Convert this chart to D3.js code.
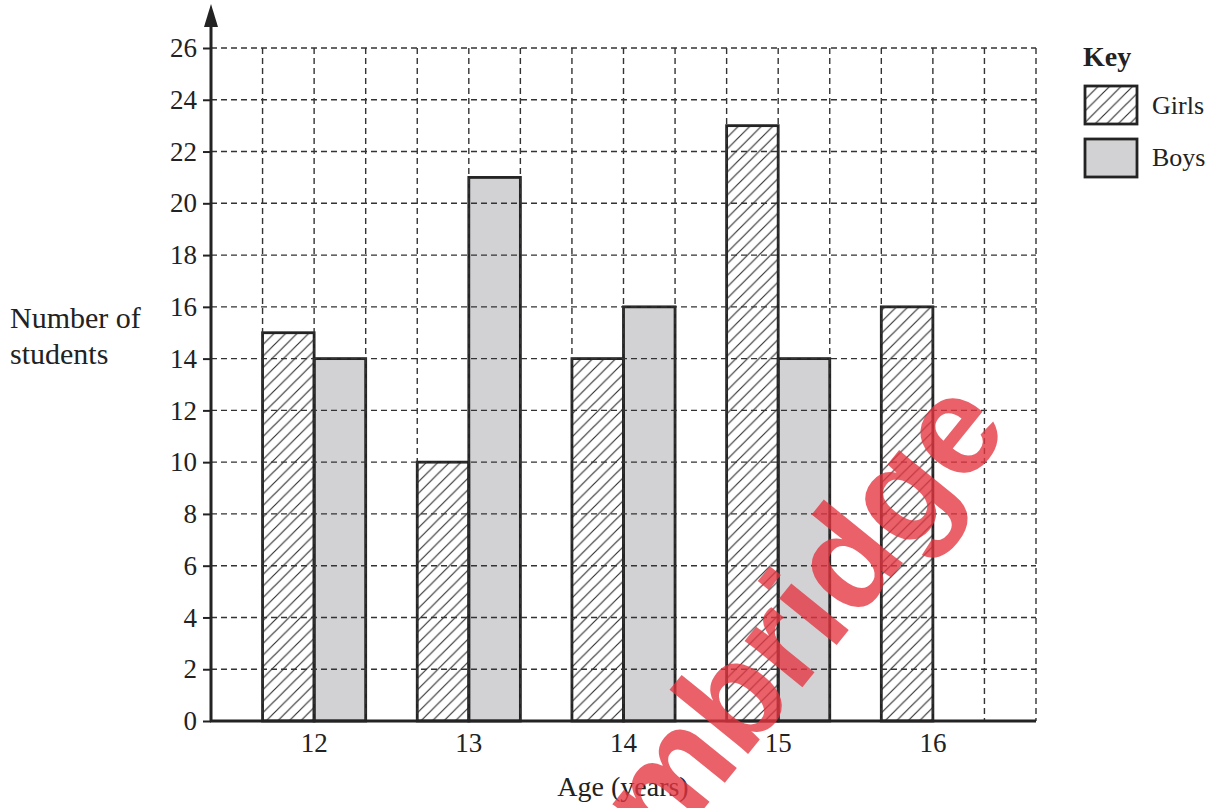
<!DOCTYPE html>
<html>
<head>
<meta charset="utf-8">
<script src="https://cdn.jsdelivr.net/npm/d3@7"></script>
<style>
  html, body { margin: 0; padding: 0; background: #fff; }
  svg text.serif { font-family: "Liberation Serif", "DejaVu Serif", serif; fill: #222; }
</style>
</head>
<body>
<svg id="chart" width="1219" height="808"></svg>
<script>
// ---- data ----
const ages = ["12", "13", "14", "15", "16"];
const seriesNames = ["Girls", "Boys"];
const girls = [15, 10, 14, 23, 16];
const boys = [14, 21, 16, 14, 0];
const yTicks = [0, 2, 4, 6, 8, 10, 12, 14, 16, 18, 20, 22, 24, 26];
const gridCells = 16;

(function () {
const svg = d3.select("#chart");
const pLeft = 211, pRight = 1036, pBottom = 721, pTop = 48;
const ink = "#232323";
const serif = "Liberation Serif, DejaVu Serif, serif";

const defs = svg.append("defs");
const pat = defs.append("pattern").attr("id", "hatch")
  .attr("patternUnits", "userSpaceOnUse").attr("width", 11.5).attr("height", 11.5);
pat.append("path").attr("d", "M0,11.5 L11.5,0 M-2,2 L2,-2 M9.5,13.5 L13.5,9.5")
  .attr("stroke", "#2e2e2e").attr("stroke-width", 1.15);

const y = d3.scaleLinear().domain([0, 26]).range([pBottom, pTop]);
const xCell = d3.scaleLinear().domain([0, gridCells]).range([pLeft, pRight]);
const x0 = d3.scaleBand().domain(ages).range([pLeft, pRight])
  .paddingInner(1 / 3).paddingOuter(1 / 3);
const x1 = d3.scaleBand().domain(seriesNames).range([0, x0.bandwidth()]);

const data = ages.map((a, i) => ({ age: a, vals: [
  { key: "Girls", v: girls[i] }, { key: "Boys", v: boys[i] }
].filter(d => d.v > 0) }));

// bar fills
const groups = svg.append("g").selectAll("g").data(data).join("g")
  .attr("transform", d => `translate(${x0(d.age)},0)`);
groups.selectAll("rect.fill").data(d => d.vals).join("rect").attr("class", "fill")
  .attr("x", d => x1(d.key)).attr("width", x1.bandwidth())
  .attr("y", d => y(d.v)).attr("height", d => y(0) - y(d.v))
  .attr("fill", d => d.key === "Girls" ? "url(#hatch)" : "#d2d2d4")
  .attr("stroke", "none");

// grid
const grid = svg.append("g").attr("stroke", "#333").attr("stroke-width", 1.4)
  .attr("stroke-dasharray", "6,4").attr("fill", "none");
grid.selectAll("line.h").data(yTicks.filter(t => t > 0)).join("line")
  .attr("x1", pLeft).attr("x2", pRight).attr("y1", d => y(d)).attr("y2", d => y(d));
grid.selectAll("line.v").data(d3.range(1, gridCells + 1)).join("line")
  .attr("y1", pTop).attr("y2", pBottom).attr("x1", d => xCell(d)).attr("x2", d => xCell(d));

// bar outlines
groups.selectAll("rect.out").data(d => d.vals).join("rect").attr("class", "out")
  .attr("x", d => x1(d.key)).attr("width", x1.bandwidth())
  .attr("y", d => y(d.v)).attr("height", d => y(0) - y(d.v))
  .attr("fill", "none").attr("stroke", ink).attr("stroke-width", 2.8);

// y axis
const yAxis = d3.axisLeft(y).tickValues(yTicks).tickSize(8).tickPadding(6);
const gy = svg.append("g").attr("transform", `translate(${pLeft},0)`).call(yAxis);
gy.select(".domain").remove();
gy.selectAll(".tick line").attr("stroke", ink).attr("stroke-width", 2);
gy.selectAll(".tick text").attr("class", "serif").style("font-size", "27px")
  .style("font-family", serif).style("fill", "#222");
svg.append("line").attr("x1", pLeft).attr("x2", pLeft).attr("y1", pBottom).attr("y2", 20)
  .attr("stroke", ink).attr("stroke-width", 3);
svg.append("path").attr("d", `M${pLeft},4 L${pLeft - 7},27 L${pLeft + 7},27 Z`).attr("fill", ink);

// x axis
const gx = svg.append("g").attr("transform", `translate(0,${pBottom})`)
  .call(d3.axisBottom(x0).tickSize(0).tickPadding(12));
gx.select(".domain").remove();
gx.selectAll(".tick text").attr("class", "serif").style("font-size", "27px")
  .style("font-family", serif).style("fill", "#222");
svg.append("line").attr("x1", pLeft - 1).attr("x2", pRight).attr("y1", pBottom).attr("y2", pBottom)
  .attr("stroke", ink).attr("stroke-width", 3);

// axis titles
svg.append("text").attr("class", "serif").attr("x", 623).attr("y", 796)
  .attr("text-anchor", "middle").style("font-size", "28px").text("Age (years)");
svg.append("text").attr("class", "serif").attr("x", 10).attr("y", 328)
  .style("font-size", "30px").text("Number of");
svg.append("text").attr("class", "serif").attr("x", 10).attr("y", 364)
  .style("font-size", "30px").text("students");

// legend
const lg = svg.append("g");
lg.append("text").attr("class", "serif").attr("x", 1083).attr("y", 66)
  .style("font-size", "28px").style("font-weight", "bold").text("Key");
const legendItems = seriesNames.map((n, i) => ({ key: n, i }));
lg.selectAll("rect").data(legendItems).join("rect")
  .attr("x", 1085).attr("y", d => 86 + d.i * 53).attr("width", 52).attr("height", 38)
  .attr("fill", d => d.key === "Girls" ? "url(#hatch)" : "#d2d2d4")
  .attr("stroke", ink).attr("stroke-width", 2.8);
lg.selectAll("text.item").data(legendItems).join("text").attr("class", "serif item")
  .attr("x", 1152).attr("y", d => 114 + d.i * 52).style("font-size", "26px").text(d => d.key);

// watermark
svg.append("text").attr("transform", "translate(664,858) rotate(-51)")
  .style("font-family", "Liberation Sans, Arial, sans-serif").style("font-weight", "bold")
  .style("font-size", "140px").style("fill", "rgba(228,52,64,0.78)").text("mbridge");
})();
</script>
</body>
</html>
